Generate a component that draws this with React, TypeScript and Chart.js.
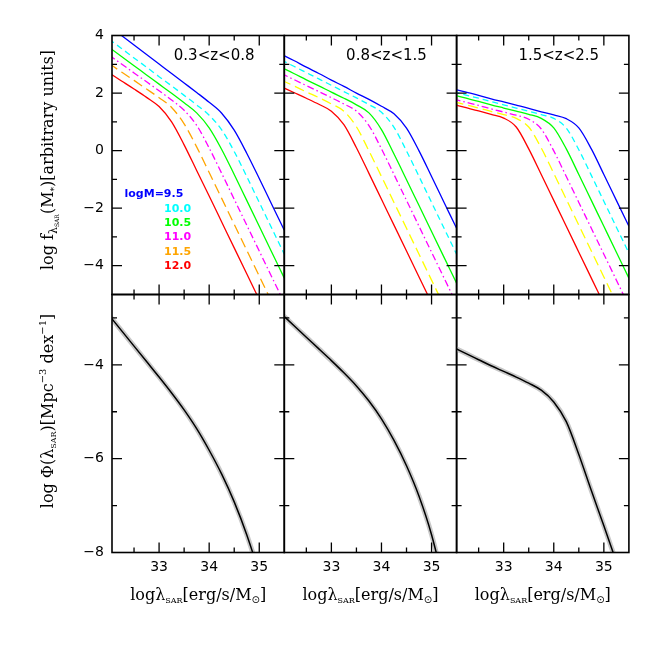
import React, { useEffect, useRef } from 'react';
import { Chart, registerables } from 'chart.js';

Chart.register(...registerables);

// ---------------- data ----------------
const logLambda = [32.0, 32.25, 32.5, 32.75, 33.0, 33.25, 33.5, 33.75, 34.0, 34.25, 34.5, 34.75, 35.0, 35.25, 35.5];

// 0.3<z<0.8 : log f(lambda | M)
const f_z1_m95 = [4.33, 4.0, 3.67, 3.34, 3.01, 2.68, 2.35, 2.02, 1.68, 1.3, 0.71, -0.09, -0.97, -1.87, -2.77];
const f_z1_m100 = [3.87, 3.55, 3.22, 2.9, 2.57, 2.25, 1.92, 1.59, 1.23, 0.72, -0.03, -0.9, -1.8, -2.7, -3.6];
const f_z1_m105 = [3.59, 3.27, 2.95, 2.63, 2.31, 1.99, 1.66, 1.31, 0.79, 0.04, -0.83, -1.73, -2.63, -3.53, -4.43];
const f_z1_m110 = [3.32, 3.01, 2.7, 2.39, 2.08, 1.76, 1.4, 0.88, 0.09, -0.79, -1.69, -2.59, -3.49, -4.39, -5.29];
const f_z1_m115 = [3.03, 2.73, 2.44, 2.14, 1.84, 1.5, 0.93, 0.13, -0.76, -1.66, -2.56, -3.46, -4.36, -5.26, -6.16];
const f_z1_m120 = [2.7, 2.42, 2.14, 1.85, 1.53, 1.0, 0.2, -0.69, -1.58, -2.48, -3.38, -4.28, -5.18, -6.08, -6.98];

// 0.8<z<1.5
const f_z2_m95 = [3.35, 3.13, 2.9, 2.68, 2.45, 2.23, 2.0, 1.78, 1.54, 1.28, 0.78, -0.01, -0.9, -1.8, -2.7];
const f_z2_m100 = [3.15, 2.93, 2.71, 2.49, 2.27, 2.05, 1.83, 1.6, 1.33, 0.81, -0.01, -0.9, -1.8, -2.7, -3.6];
const f_z2_m105 = [2.89, 2.68, 2.46, 2.25, 2.03, 1.82, 1.59, 1.31, 0.73, -0.12, -1.01, -1.91, -2.81, -3.71, -4.61];
const f_z2_m110 = [2.68, 2.47, 2.26, 2.05, 1.84, 1.62, 1.37, 0.87, 0.06, -0.83, -1.73, -2.63, -3.53, -4.43, -5.33];
const f_z2_m115 = [2.45, 2.25, 2.04, 1.84, 1.62, 1.37, 0.83, -0.01, -0.9, -1.8, -2.7, -3.6, -4.5, -5.4, -6.3];
const f_z2_m120 = [2.22, 2.02, 1.82, 1.61, 1.37, 0.9, 0.1, -0.79, -1.69, -2.59, -3.49, -4.39, -5.29, -6.19, -7.09];

// 1.5<z<2.5
const f_z3_m95 = [2.14, 2.03, 1.92, 1.8, 1.69, 1.58, 1.47, 1.35, 1.24, 1.11, 0.79, 0.06, -0.83, -1.73, -2.63];
const f_z3_m100 = [2.04, 1.93, 1.82, 1.7, 1.59, 1.48, 1.37, 1.25, 1.12, 0.78, 0.03, -0.86, -1.76, -2.66, -3.56];
const f_z3_m105 = [1.93, 1.82, 1.71, 1.59, 1.48, 1.37, 1.26, 1.12, 0.79, 0.06, -0.83, -1.73, -2.63, -3.53, -4.43];
const f_z3_m110 = [1.79, 1.68, 1.57, 1.45, 1.34, 1.23, 1.09, 0.75, -0.01, -0.9, -1.8, -2.7, -3.6, -4.5, -5.4];
const f_z3_m115 = [1.7, 1.59, 1.48, 1.36, 1.25, 1.12, 0.82, 0.09, -0.79, -1.69, -2.59, -3.49, -4.39, -5.29, -6.19];
const f_z3_m120 = [1.6, 1.49, 1.38, 1.26, 1.13, 0.82, 0.06, -0.83, -1.73, -2.63, -3.53, -4.43, -5.33, -6.23, -7.13];

// log Phi(lambda_SAR)
const phi_z1 = [-2.94, -3.27, -3.6, -3.93, -4.26, -4.6, -4.96, -5.36, -5.82, -6.33, -6.92, -7.62, -8.45, -9.4, -10.4];
const phi_z2 = [-2.91, -3.16, -3.41, -3.66, -3.91, -4.17, -4.45, -4.77, -5.15, -5.61, -6.15, -6.8, -7.62, -8.7, -9.9];
const phi_z3 = [-3.63, -3.76, -3.89, -4.02, -4.14, -4.26, -4.39, -4.54, -4.79, -5.21, -5.91, -6.68, -7.43, -8.2, -9.0];

const massLabels = ['logM=9.5', '10.0', '10.5', '11.0', '11.5', '12.0'];
const zLabels = ['0.3<z<0.8', '0.8<z<1.5', '1.5<z<2.5'];

const xTicks = [33, 34, 35];
const xMinor = [32.5, 33.5, 34.5];
const fTicks = [-4, -2, 0, 2, 4];
const fMinor = [-3, -1, 1, 3];
const phiTicks = [-8, -6, -4];
const phiMinor = [-7, -5, -3];

const X_MIN = 32.06;
const X_MAX = 35.5;
const F_MIN = -5;
const F_MAX = 4;
const PHI_MIN = -8;
const PHI_MAX = -2.5;

const fSeries = [
  [f_z1_m95, f_z1_m100, f_z1_m105, f_z1_m110, f_z1_m115, f_z1_m120],
  [f_z2_m95, f_z2_m100, f_z2_m105, f_z2_m110, f_z2_m115, f_z2_m120],
  [f_z3_m95, f_z3_m100, f_z3_m105, f_z3_m110, f_z3_m115, f_z3_m120],
];
const phiSeries = [phi_z1, phi_z2, phi_z3];

// ---------------- styles / layout ----------------
const SIZE = 664;
const PANEL_LEFT = 112;
const PANEL_W = 172.3;
const TOP = 35.5;
const MID = 294.5;
const BOTTOM = 552.5;
const Y_BOX = 60;
const X_BOX = 40;

const colorsZ1 = ['#0000ff', '#00ffff', '#00ff00', '#ff00ff', '#ffa500', '#ff0000'];
const colorsZ23 = ['#0000ff', '#00ffff', '#00ff00', '#ff00ff', '#ffff00', '#ff0000'];
const dashes: number[][] = [[], [6, 4], [], [7, 3, 1.5, 3], [10, 5], []];

type Seg = { t: string; size: number; dy?: number; family?: string; weight?: string };

const yTitleTop: Seg[] = [
  { t: 'log f', size: 16 },
  { t: 'λ', size: 11, dy: 4 },
  { t: 'SAR', size: 6, dy: 6 },
  { t: '(M', size: 16 },
  { t: '*', size: 9, dy: 4 },
  { t: ')[arbitrary units]', size: 16 },
];
const yTitleBottom: Seg[] = [
  { t: 'log Φ(λ', size: 16 },
  { t: 'SAR', size: 8, dy: 3 },
  { t: ')[Mpc', size: 16 },
  { t: '−3', size: 10, dy: -7 },
  { t: ' dex', size: 16 },
  { t: '−1', size: 10, dy: -7 },
  { t: ']', size: 16 },
];
const xTitle: Seg[] = [
  { t: 'logλ', size: 16 },
  { t: 'SAR', size: 8, dy: 3 },
  { t: '[erg/s/M', size: 16 },
  { t: '⊙', size: 10, dy: 3, family: '"DejaVu Sans"' },
  { t: ']', size: 16 },
];

function drawRich(ctx: CanvasRenderingContext2D, segs: Seg[], x: number, y: number, rotate: boolean, align: 'center' | 'left' = 'center', color = '#000') {
  ctx.save();
  ctx.fillStyle = color;
  ctx.textBaseline = 'alphabetic';
  ctx.textAlign = 'left';
  const font = (s: Seg) => `${s.weight ?? 'normal'} ${s.size}px ${s.family ?? '"DejaVu Serif"'}`;
  let total = 0;
  const widths = segs.map((s) => {
    ctx.font = font(s);
    const w = ctx.measureText(s.t).width;
    total += w;
    return w;
  });
  ctx.translate(x, y);
  if (rotate) ctx.rotate(-Math.PI / 2);
  let cx = align === 'center' ? -total / 2 : 0;
  segs.forEach((s, i) => {
    ctx.font = font(s);
    ctx.fillText(s.t, cx, s.dy ?? 0);
    cx += widths[i];
  });
  ctx.restore();
}

const fmt = (v: number) => (v < 0 ? '−' + Math.abs(v) : String(v));

function framePlugin(row: 'top' | 'bottom', col: number) {
  return {
    id: 'frameAndText' + row + col,
    afterDatasetsDraw(chart: any) {
      const { ctx, chartArea: a, scales } = chart;
      const xs = scales.x;
      const ys = scales.y;
      ctx.save();
      ctx.strokeStyle = '#000';
      ctx.lineWidth = 1.3;
      ctx.beginPath();
      const xt = (vals: number[], len: number) => {
        vals.forEach((v) => {
          const p = xs.getPixelForValue(v);
          if (p <= a.left + 1 || p >= a.right - 1) return;
          ctx.moveTo(p, a.bottom);
          ctx.lineTo(p, a.bottom - len);
          ctx.moveTo(p, a.top);
          ctx.lineTo(p, a.top + len);
        });
      };
      const yt = (vals: number[], len: number) => {
        vals.forEach((v) => {
          const p = ys.getPixelForValue(v);
          if (p <= a.top + 1 || p >= a.bottom - 1) return;
          ctx.moveTo(a.left, p);
          ctx.lineTo(a.left + len, p);
          ctx.moveTo(a.right, p);
          ctx.lineTo(a.right - len, p);
        });
      };
      xt(xTicks, 10);
      xt(xMinor, 5);
      if (row === 'top') {
        yt(fTicks, 10);
        yt(fMinor, 5);
      } else {
        yt(phiTicks, 10);
        yt(phiMinor, 5);
      }
      ctx.stroke();
      ctx.lineWidth = 1.6;
      ctx.strokeRect(a.left, a.top, a.right - a.left, a.bottom - a.top);
      ctx.restore();

      const cx = (a.left + a.right) / 2;
      if (row === 'top') {
        drawRich(ctx, [{ t: zLabels[col], size: 15, family: '"DejaVu Sans"' }], cx + 16, 59.5, false);
        if (col === 0) {
          drawRich(ctx, [{ t: massLabels[0], size: 11, family: '"DejaVu Sans"', weight: 'bold' }], 124.5, 197, false, 'left', colorsZ1[0]);
          for (let k = 1; k < massLabels.length; k++) {
            drawRich(ctx, [{ t: massLabels[k], size: 11, family: '"DejaVu Sans"', weight: 'bold' }], 164, 211.7 + (k - 1) * 14.35, false, 'left', colorsZ1[k]);
          }
          drawRich(ctx, yTitleTop, 53, 160, true);
        }
      } else {
        drawRich(ctx, xTitle, cx, 600, false);
        if (col === 0) drawRich(ctx, yTitleBottom, 53, 411, true);
      }
    },
  };
}

function pts(ys: number[]) {
  return logLambda.map((x, i) => ({ x, y: ys[i] }));
}

function makeConfig(row: 'top' | 'bottom', col: number): any {
  const left = PANEL_LEFT + col * PANEL_W;
  const right = left + PANEL_W;
  const top = row === 'top' ? TOP : MID;
  const bottom = row === 'top' ? MID : BOTTOM;
  const colors = col === 0 ? colorsZ1 : colorsZ23;
  const common = { pointRadius: 0, cubicInterpolationMode: 'monotone', fill: false };
  const datasets =
    row === 'top'
      ? fSeries[col].map((ys, k) => ({
          ...common,
          data: pts(ys),
          borderColor: colors[k],
          borderWidth: 1.3,
          borderDash: dashes[k],
        }))
      : [
          { ...common, data: pts(phiSeries[col]), borderColor: '#000000', borderWidth: 1.5 },
          { ...common, data: pts(phiSeries[col]), borderColor: '#c8c8c8', borderWidth: 5 },
        ];
  const tickFont = { family: '"DejaVu Sans"', size: 14 };
  return {
    type: 'line',
    data: { datasets },
    options: {
      animation: false,
      responsive: false,
      events: [],
      layout: { padding: { left: left - Y_BOX, top, right: SIZE - right, bottom: SIZE - bottom - X_BOX } },
      plugins: { legend: { display: false }, tooltip: { enabled: false } },
      scales: {
        x: {
          type: 'linear',
          position: 'bottom',
          min: X_MIN,
          max: X_MAX,
          afterFit: (s: any) => {
            s.height = X_BOX;
          },
          afterBuildTicks: (s: any) => {
            s.ticks = xTicks.map((v) => ({ value: v }));
          },
          grid: { display: false, drawTicks: false },
          border: { display: false },
          ticks: {
            display: row === 'bottom',
            padding: 6,
            font: tickFont,
            color: '#000',
            autoSkip: false,
            maxRotation: 0,
            callback: (v: number) => fmt(v),
          },
        },
        y: {
          type: 'linear',
          position: 'left',
          min: row === 'top' ? F_MIN : PHI_MIN,
          max: row === 'top' ? F_MAX : PHI_MAX,
          afterFit: (s: any) => {
            s.width = Y_BOX;
          },
          afterBuildTicks: (s: any) => {
            s.ticks = (row === 'top' ? fTicks : phiTicks).map((v) => ({ value: v }));
          },
          grid: { display: false, drawTicks: false },
          border: { display: false },
          ticks: {
            display: col === 0,
            padding: 8,
            font: tickFont,
            color: '#000',
            autoSkip: false,
            callback: (v: number) => fmt(v),
          },
        },
      },
    },
    plugins: [framePlugin(row, col)],
  };
}

const panels: { row: 'top' | 'bottom'; col: number }[] = [
  { row: 'top', col: 0 },
  { row: 'top', col: 1 },
  { row: 'top', col: 2 },
  { row: 'bottom', col: 0 },
  { row: 'bottom', col: 1 },
  { row: 'bottom', col: 2 },
];

export default function App() {
  const refs = useRef<(HTMLCanvasElement | null)[]>([]);
  useEffect(() => {
    const charts = panels.map((p, i) => new Chart(refs.current[i] as HTMLCanvasElement, makeConfig(p.row, p.col)));
    return () => charts.forEach((c) => c.destroy());
  }, []);
  return (
    <div style={{ position: 'absolute', left: 0, top: 0, width: SIZE, height: SIZE, background: '#fff' }}>
      {panels.map((p, i) => (
        <canvas
          key={i}
          ref={(el) => {
            refs.current[i] = el;
          }}
          width={SIZE}
          height={SIZE}
          style={{ position: 'absolute', left: 0, top: 0, width: SIZE, height: SIZE }}
        />
      ))}
    </div>
  );
}
